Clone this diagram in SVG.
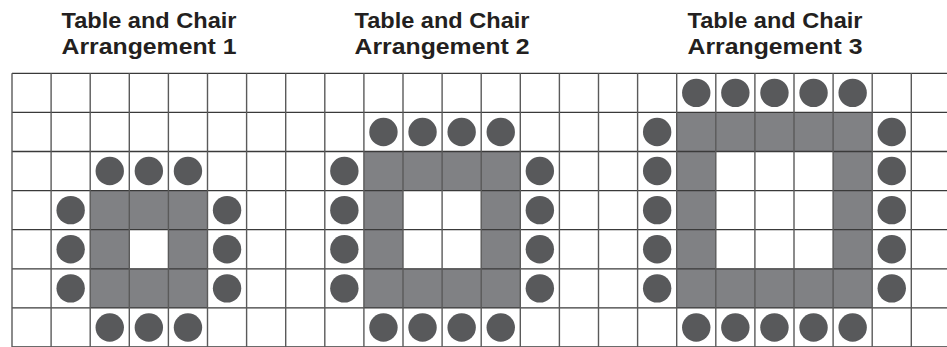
<svg xmlns="http://www.w3.org/2000/svg" xmlns:xlink="http://www.w3.org/1999/xlink" width="947" height="347" viewBox="0 0 947 347">
<style>
.title{font-family:"Liberation Sans",Arial,sans-serif;font-weight:bold;font-size:22.5px;fill:#231f20;text-anchor:middle}
.table{fill:#808184;fill-rule:evenodd}
.chair{fill:#58595b}
.h{stroke:#3a3a3a;stroke-width:1.3}
.v{stroke:#5a5a5a;stroke-width:1.4}
</style>
<defs>
<circle id="chair" r="14.2"/>
</defs>
<rect width="947" height="347" fill="#ffffff"/>
<g id="titles">
<text class="title" x="149" y="28" textLength="175" lengthAdjust="spacingAndGlyphs">Table and Chair</text>
<text class="title" x="149" y="53.5" textLength="175" lengthAdjust="spacingAndGlyphs">Arrangement 1</text>
<text class="title" x="442" y="28" textLength="175" lengthAdjust="spacingAndGlyphs">Table and Chair</text>
<text class="title" x="442" y="53.5" textLength="175" lengthAdjust="spacingAndGlyphs">Arrangement 2</text>
<text class="title" x="775" y="28" textLength="175" lengthAdjust="spacingAndGlyphs">Table and Chair</text>
<text class="title" x="775" y="53.5" textLength="175" lengthAdjust="spacingAndGlyphs">Arrangement 3</text>
</g>
<g transform="translate(12,73.3)">
<g id="tables">
<path id="table-1" class="table" d="M78.2 117.3H195.5V234.6H78.2Z M117.3 156.4H156.4V195.5H117.3Z"/>
<path id="table-2" class="table" d="M351.9 78.2H508.3V234.6H351.9Z M391 117.3H469.2V195.5H391Z"/>
<path id="table-3" class="table" d="M664.7 39.1H860.2V234.6H664.7Z M703.8 78.2H821.1V195.5H703.8Z"/>
</g>
<g id="grid">
<g class="h">
<line x1="0" y1="0" x2="935" y2="0"/>
<line x1="0" y1="39.1" x2="935" y2="39.1"/>
<line x1="0" y1="78.2" x2="935" y2="78.2"/>
<line x1="0" y1="117.3" x2="935" y2="117.3"/>
<line x1="0" y1="156.4" x2="935" y2="156.4"/>
<line x1="0" y1="195.5" x2="935" y2="195.5"/>
<line x1="0" y1="234.6" x2="935" y2="234.6"/>
<line x1="0" y1="273.7" x2="935" y2="273.7"/>
</g>
<g class="v">
<line x1="0" y1="0" x2="0" y2="274"/>
<line x1="39.1" y1="0" x2="39.1" y2="274"/>
<line x1="78.2" y1="0" x2="78.2" y2="274"/>
<line x1="117.3" y1="0" x2="117.3" y2="274"/>
<line x1="156.4" y1="0" x2="156.4" y2="274"/>
<line x1="195.5" y1="0" x2="195.5" y2="274"/>
<line x1="234.6" y1="0" x2="234.6" y2="274"/>
<line x1="273.7" y1="0" x2="273.7" y2="274"/>
<line x1="312.8" y1="0" x2="312.8" y2="274"/>
<line x1="351.9" y1="0" x2="351.9" y2="274"/>
<line x1="391" y1="0" x2="391" y2="274"/>
<line x1="430.1" y1="0" x2="430.1" y2="274"/>
<line x1="469.2" y1="0" x2="469.2" y2="274"/>
<line x1="508.3" y1="0" x2="508.3" y2="274"/>
<line x1="547.4" y1="0" x2="547.4" y2="274"/>
<line x1="586.5" y1="0" x2="586.5" y2="274"/>
<line x1="625.6" y1="0" x2="625.6" y2="274"/>
<line x1="664.7" y1="0" x2="664.7" y2="274"/>
<line x1="703.8" y1="0" x2="703.8" y2="274"/>
<line x1="742.9" y1="0" x2="742.9" y2="274"/>
<line x1="782" y1="0" x2="782" y2="274"/>
<line x1="821.1" y1="0" x2="821.1" y2="274"/>
<line x1="860.2" y1="0" x2="860.2" y2="274"/>
<line x1="899.3" y1="0" x2="899.3" y2="274"/>
</g>
</g>
<g id="chairs-1" class="chair">
<use xlink:href="#chair" x="97.75" y="97.75"/>
<use xlink:href="#chair" x="136.85" y="97.75"/>
<use xlink:href="#chair" x="175.95" y="97.75"/>
<use xlink:href="#chair" x="97.75" y="254.15"/>
<use xlink:href="#chair" x="136.85" y="254.15"/>
<use xlink:href="#chair" x="175.95" y="254.15"/>
<use xlink:href="#chair" x="58.65" y="136.85"/>
<use xlink:href="#chair" x="58.65" y="175.95"/>
<use xlink:href="#chair" x="58.65" y="215.05"/>
<use xlink:href="#chair" x="215.05" y="136.85"/>
<use xlink:href="#chair" x="215.05" y="175.95"/>
<use xlink:href="#chair" x="215.05" y="215.05"/>
</g>
<g id="chairs-2" class="chair">
<use xlink:href="#chair" x="371.45" y="58.65"/>
<use xlink:href="#chair" x="410.55" y="58.65"/>
<use xlink:href="#chair" x="449.65" y="58.65"/>
<use xlink:href="#chair" x="488.75" y="58.65"/>
<use xlink:href="#chair" x="371.45" y="254.15"/>
<use xlink:href="#chair" x="410.55" y="254.15"/>
<use xlink:href="#chair" x="449.65" y="254.15"/>
<use xlink:href="#chair" x="488.75" y="254.15"/>
<use xlink:href="#chair" x="332.35" y="97.75"/>
<use xlink:href="#chair" x="332.35" y="136.85"/>
<use xlink:href="#chair" x="332.35" y="175.95"/>
<use xlink:href="#chair" x="332.35" y="215.05"/>
<use xlink:href="#chair" x="527.85" y="97.75"/>
<use xlink:href="#chair" x="527.85" y="136.85"/>
<use xlink:href="#chair" x="527.85" y="175.95"/>
<use xlink:href="#chair" x="527.85" y="215.05"/>
</g>
<g id="chairs-3" class="chair">
<use xlink:href="#chair" x="684.25" y="19.55"/>
<use xlink:href="#chair" x="723.35" y="19.55"/>
<use xlink:href="#chair" x="762.45" y="19.55"/>
<use xlink:href="#chair" x="801.55" y="19.55"/>
<use xlink:href="#chair" x="840.65" y="19.55"/>
<use xlink:href="#chair" x="684.25" y="254.15"/>
<use xlink:href="#chair" x="723.35" y="254.15"/>
<use xlink:href="#chair" x="762.45" y="254.15"/>
<use xlink:href="#chair" x="801.55" y="254.15"/>
<use xlink:href="#chair" x="840.65" y="254.15"/>
<use xlink:href="#chair" x="645.15" y="58.65"/>
<use xlink:href="#chair" x="645.15" y="97.75"/>
<use xlink:href="#chair" x="645.15" y="136.85"/>
<use xlink:href="#chair" x="645.15" y="175.95"/>
<use xlink:href="#chair" x="645.15" y="215.05"/>
<use xlink:href="#chair" x="879.75" y="58.65"/>
<use xlink:href="#chair" x="879.75" y="97.75"/>
<use xlink:href="#chair" x="879.75" y="136.85"/>
<use xlink:href="#chair" x="879.75" y="175.95"/>
<use xlink:href="#chair" x="879.75" y="215.05"/>
</g>
</g>
</svg>
